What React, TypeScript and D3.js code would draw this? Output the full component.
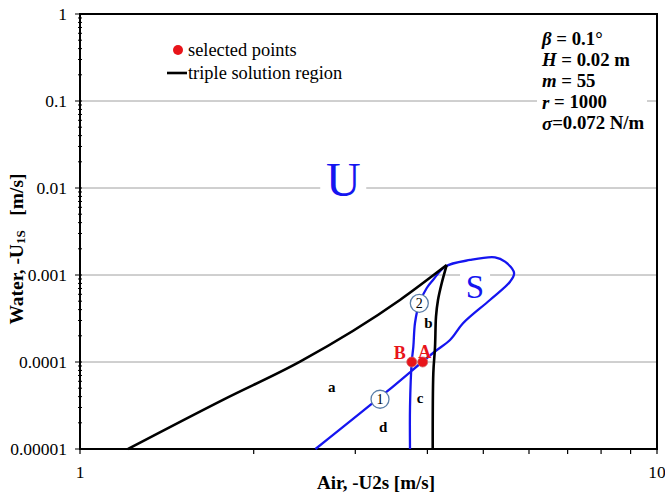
import React from "react";
import * as d3 from "d3";

// ---- data ----
const blackUpper: [number, number][] = [
  [1.211, 1e-5], [1.776, 3.72e-5], [2.406, 1.01e-4], [3.585, 5.16e-4], [4.32, 1.3e-3],
];
const blackRight: [number, number][] = [
  [4.32, 1.3e-3], [4.236, 8.09e-4], [4.173, 5.16e-4], [4.14, 3.32e-4],
  [4.124, 1.5e-4], [4.096, 7.47e-5], [4.086, 1e-5],
];
const blueCurve: [number, number][] = [
  [2.559, 1e-5], [3.401, 4.56e-5], [4.091, 1.269e-4], [4.378, 1.79e-4], [4.611, 2.785e-4],
  [5.134, 5.16e-4], [5.563, 8.37e-4], [5.653, 1.055e-3], [5.452, 1.422e-3], [5.24, 1.597e-3],
  [4.743, 1.488e-3], [4.291, 1.246e-3], [4.091, 8.76e-4], [3.99, 7.09e-4], [3.873, 4.73e-4],
  [3.807, 2.81e-4], [3.782, 1.5e-4], [3.758, 1.008e-4], [3.732, 3.06e-5], [3.732, 1e-5],
];
const selectedPoints = [
  { name: "A", x: 3.926, y: 1e-4 },
  { name: "B", x: 3.758, y: 1e-4 },
];
const circleMarkers = [
  { name: "1", x: 3.311, y: 3.73e-5 },
  { name: "2", x: 3.873, y: 4.73e-4 },
];
const regionLabels = [
  { name: "a", x: 2.731, y: 5.2e-5 },
  { name: "b", x: 4.015, y: 2.83e-4 },
  { name: "c", x: 3.885, y: 3.83e-5 },
  { name: "d", x: 3.354, y: 1.79e-5 },
];
const bigLabels = [
  { name: "U", x: 2.859, y: 1.236e-2 },
  { name: "S", x: 4.838, y: 7.22e-4 },
];
const yTickLabels = ["1", "0.1", "0.01", "0.001", "0.0001", "0.00001"];
const yTickValues = [1, 0.1, 0.01, 0.001, 0.0001, 0.00001];
const xTickValues = [1, 10];
const xTickLabels = ["1", "10"];
const gridValues = [0.1, 0.01, 0.001, 0.0001];
const params = [
  { v: "β", rest: " = 0.1°" },
  { v: "H", rest: " = 0.02 m" },
  { v: "m", rest: " = 55" },
  { v: "r", rest: " = 1000" },
  { v: "σ", rest: "=0.072 N/m" },
];

const W = 665, H = 494;
const L = 80, R = 657, T = 14, B = 449;
const FONT = "'Liberation Serif', 'Times New Roman', serif";
const BLUE = "#1515f0";

export default function App() {
  const x = d3.scaleLog().domain([1, 10]).range([L, R]);
  const y = d3.scaleLog().domain([1e-5, 1]).range([B, T]);
  const line = d3.line<[number, number]>().x(d => x(d[0])).y(d => y(d[1])).curve(d3.curveCatmullRom.alpha(0.5));
  const monoLine = d3.line<[number, number]>().x(d => x(d[0])).y(d => y(d[1])).curve(d3.curveMonotoneX);
  const yMinor = y.ticks();
  const xMinor = x.ticks();

  const uPos = bigLabels[0], sPos = bigLabels[1];

  return (
    <svg width={W} height={H} style={{ position: "absolute", left: 0, top: 0, background: "#fff" }} fontFamily={FONT}>
      <rect width={W} height={H} fill="#fff" />
      {/* gridlines */}
      {gridValues.map(g => (
        <line key={g} x1={L} x2={R} y1={y(g)} y2={y(g)} stroke="#a0a0a0" strokeWidth={1} />
      ))}
      {/* white boxes behind texts */}
      <rect x={x(uPos.x) - 23} y={y(uPos.y) - 22} width={46} height={42} fill="#fff" />
      <rect x={x(sPos.x) - 15} y={y(sPos.y) - 21} width={30} height={38} fill="#fff" />
      <rect x={537} y={26} width={110} height={108} fill="#fff" />

      {/* axis ticks */}
      {yMinor.map((t, i) => {
        const major = Math.abs(Math.log10(t) - Math.round(Math.log10(t))) < 1e-9;
        return <line key={"ym" + i} x1={major ? L - 5 : L - 2} x2={L + 2} y1={y(t)} y2={y(t)} stroke="#000" strokeWidth={1} />;
      })}
      {xMinor.map((t, i) => (
        <line key={"xm" + i} x1={x(t)} x2={x(t)} y1={B} y2={B + 5} stroke="#000" strokeWidth={1.2} />
      ))}
      {/* frame */}
      <rect x={L} y={T} width={R - L} height={B - T} fill="none" stroke="#000" strokeWidth={2} />

      {/* tick labels */}
      {yTickValues.map((v, i) => (
        <text key={"yl" + i} x={67} y={y(v)} textAnchor="end" dominantBaseline="central" fontSize={17.5}>{yTickLabels[i]}</text>
      ))}
      {xTickValues.map((v, i) => (
        <text key={"xl" + i} x={x(v)} y={472} textAnchor="middle" dominantBaseline="central" fontSize={17.5}>{xTickLabels[i]}</text>
      ))}

      {/* axis titles */}
      <text x={376} y={482} textAnchor="middle" dominantBaseline="central" fontSize={19} fontWeight="bold">Air, -U2s [m/s]</text>
      <text transform="translate(16,249) rotate(-90)" textAnchor="middle" dominantBaseline="central" fontSize={19.5} fontWeight="bold">
        Water, -U<tspan fontSize={13} dy={4}>1S</tspan><tspan dy={-4}>{"\u00a0\u00a0\u00a0[m/s]"}</tspan>
      </text>

      {/* big labels */}
      {bigLabels.map((b, i) => (
        <text key={b.name} x={x(b.x)} y={y(b.y)} textAnchor="middle" dominantBaseline="central" fill={BLUE} fontSize={i === 0 ? 48 : 33}>{b.name}</text>
      ))}

      {/* curves */}
      <path d={line(blueCurve) || ""} fill="none" stroke={BLUE} strokeWidth={2.3} strokeLinejoin="round" />
      <path d={monoLine(blackUpper) || ""} fill="none" stroke="#000" strokeWidth={2.6} />
      <path d={line(blackRight) || ""} fill="none" stroke="#000" strokeWidth={2.6} />

      {/* region labels */}
      {regionLabels.map(r => (
        <text key={r.name} x={x(r.x)} y={y(r.y)} textAnchor="middle" dominantBaseline="central" fontSize={15} fontWeight="bold">{r.name}</text>
      ))}

      {/* circle markers */}
      {circleMarkers.map(c => (
        <g key={c.name}>
          <circle cx={x(c.x)} cy={y(c.y)} r={9} fill="#fff" stroke="#5a7ea8" strokeWidth={1.3} />
          <text x={x(c.x)} y={y(c.y) + 0.5} textAnchor="middle" dominantBaseline="central" fontSize={14}>{c.name}</text>
        </g>
      ))}

      {/* selected points */}
      {selectedPoints.map(p => (
        <circle key={p.name} cx={x(p.x)} cy={y(p.y)} r={5} fill="#e8141a" stroke="#d06060" strokeWidth={0.8} />
      ))}
      <text x={x(selectedPoints[0].x) + 2} y={y(selectedPoints[0].y) - 10} textAnchor="middle" dominantBaseline="central" fontSize={18} fontWeight="bold" fill="#e8141a">A</text>
      <text x={x(selectedPoints[1].x) - 12} y={y(selectedPoints[1].y) - 9} textAnchor="middle" dominantBaseline="central" fontSize={18} fontWeight="bold" fill="#e8141a">B</text>

      {/* legend */}
      <circle cx={178} cy={50} r={5} fill="#e8141a" />
      <text x={188} y={50} dominantBaseline="central" fontSize={18.4}>selected points</text>
      <line x1={167} x2={187} y1={73} y2={73} stroke="#000" strokeWidth={2.6} />
      <text x={188} y={73} dominantBaseline="central" fontSize={18.4}>triple solution region</text>

      {/* parameters */}
      {params.map((p, i) => (
        <text key={i} x={542} y={38 + i * 21.2} dominantBaseline="central" fontSize={18.8} fontWeight="bold">
          <tspan fontStyle="italic">{p.v}</tspan>{p.rest}
        </text>
      ))}
    </svg>
  );
}
